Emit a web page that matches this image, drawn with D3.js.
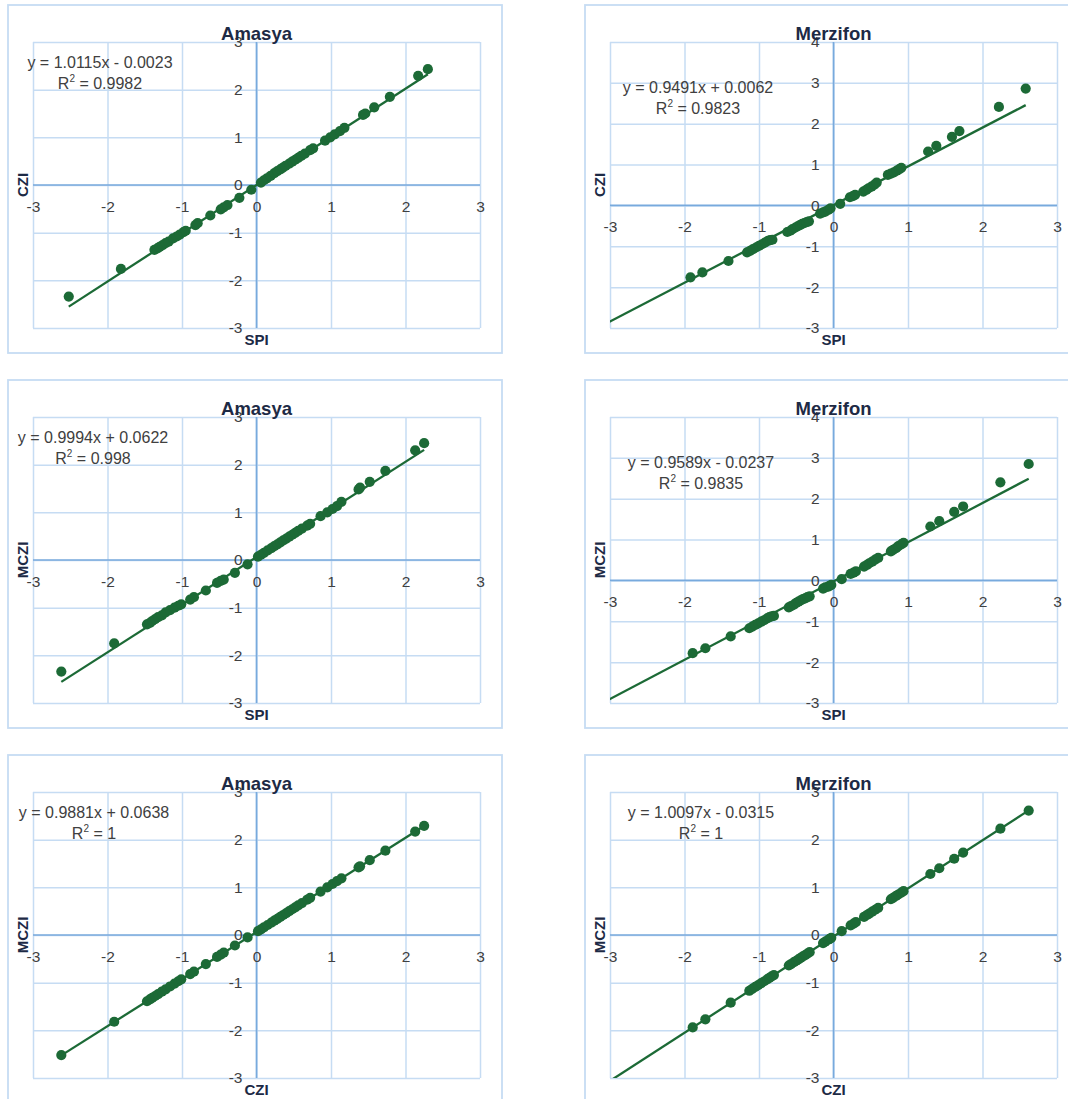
<!DOCTYPE html>
<html>
<head>
<meta charset="utf-8">
<script src="https://cdn.jsdelivr.net/npm/d3@7"></script>
<style>
  body { margin: 0; background: #fff; }
  text { font-family: "Liberation Sans", Arial, sans-serif; }
</style>
</head>
<body>
<svg id="chart" width="1068" height="1099"></svg>
<script>
// ---- data ----
var stations = ["Amasya", "Merzifon"];
var xTitles = ["SPI", "SPI", "CZI"];
var yTitles = ["CZI", "MCZI", "MCZI"];

// Amasya, SPI vs CZI
var amasyaSpiCziX = [-2.52,-1.82,-1.37,-1.33,-1.30,-1.26,-1.22,-1.18,-1.12,-1.07,-1.03,-0.98,-0.95,-0.82,-0.79,-0.62,-0.48,-0.44,-0.39,-0.23,-0.07,0.06,0.10,0.14,0.19,0.24,0.28,0.32,0.35,0.39,0.44,0.48,0.52,0.56,0.60,0.65,0.72,0.76,0.92,0.99,1.05,1.12,1.18,1.43,1.46,1.58,1.79,2.17,2.30];
var amasyaSpiCziY = [-2.34,-1.76,-1.36,-1.33,-1.30,-1.26,-1.22,-1.19,-1.12,-1.08,-1.04,-0.99,-0.96,-0.84,-0.80,-0.64,-0.51,-0.47,-0.42,-0.27,-0.10,0.05,0.10,0.14,0.19,0.25,0.29,0.33,0.36,0.40,0.45,0.49,0.53,0.57,0.61,0.66,0.73,0.77,0.93,1.00,1.06,1.13,1.20,1.47,1.50,1.63,1.85,2.29,2.43];
// Amasya, SPI vs MCZI
var amasyaSpiMcziX = [-2.62,-1.91,-1.47,-1.43,-1.40,-1.36,-1.32,-1.27,-1.22,-1.16,-1.10,-1.05,-1.01,-0.89,-0.84,-0.68,-0.53,-0.48,-0.44,-0.29,-0.12,0.02,0.06,0.10,0.15,0.20,0.24,0.28,0.32,0.36,0.40,0.44,0.48,0.52,0.56,0.61,0.68,0.72,0.86,0.95,1.02,1.08,1.14,1.37,1.39,1.52,1.73,2.13,2.25];
var amasyaSpiMcziY = [-2.34,-1.75,-1.35,-1.32,-1.28,-1.24,-1.20,-1.16,-1.10,-1.05,-1.00,-0.96,-0.93,-0.83,-0.78,-0.64,-0.48,-0.44,-0.41,-0.27,-0.09,0.07,0.11,0.15,0.20,0.25,0.29,0.33,0.37,0.41,0.45,0.49,0.53,0.57,0.61,0.66,0.72,0.76,0.92,1.00,1.07,1.13,1.22,1.48,1.52,1.64,1.87,2.30,2.45];
// Amasya, CZI vs MCZI
var amasyaCziMcziX = [-2.62,-1.91,-1.47,-1.43,-1.40,-1.36,-1.32,-1.27,-1.22,-1.16,-1.10,-1.05,-1.01,-0.89,-0.84,-0.68,-0.53,-0.48,-0.44,-0.29,-0.12,0.02,0.06,0.10,0.15,0.20,0.24,0.28,0.32,0.36,0.40,0.44,0.48,0.52,0.56,0.61,0.68,0.72,0.86,0.95,1.02,1.08,1.14,1.37,1.39,1.52,1.73,2.13,2.25];
var amasyaCziMcziY = [-2.52,-1.82,-1.39,-1.35,-1.32,-1.28,-1.24,-1.19,-1.14,-1.08,-1.02,-0.97,-0.93,-0.82,-0.77,-0.61,-0.46,-0.41,-0.37,-0.22,-0.05,0.08,0.12,0.16,0.21,0.26,0.30,0.34,0.38,0.42,0.46,0.50,0.54,0.58,0.62,0.67,0.74,0.78,0.91,1.00,1.07,1.13,1.19,1.42,1.44,1.57,1.77,2.17,2.29];

// Merzifon, SPI vs CZI
var merzifonSpiCziX = [-1.92,-1.76,-1.41,-1.16,-1.12,-1.08,-1.04,-1.00,-0.96,-0.92,-0.88,-0.85,-0.82,-0.62,-0.58,-0.55,-0.51,-0.48,-0.45,-0.42,-0.39,-0.36,-0.33,-0.18,-0.14,-0.11,-0.07,-0.04,0.09,0.22,0.26,0.29,0.40,0.44,0.47,0.51,0.55,0.58,0.73,0.77,0.81,0.85,0.88,0.91,1.27,1.38,1.59,1.69,2.22,2.58];
var merzifonSpiCziY = [-1.76,-1.64,-1.36,-1.15,-1.11,-1.07,-1.03,-0.99,-0.95,-0.91,-0.87,-0.85,-0.84,-0.65,-0.62,-0.58,-0.54,-0.51,-0.48,-0.45,-0.43,-0.41,-0.39,-0.20,-0.17,-0.15,-0.11,-0.07,0.04,0.20,0.23,0.26,0.34,0.38,0.42,0.46,0.51,0.56,0.75,0.78,0.81,0.85,0.88,0.92,1.32,1.46,1.68,1.82,2.41,2.86];
// Merzifon, SPI vs MCZI
var merzifonSpiMcziX = [-1.89,-1.72,-1.38,-1.13,-1.09,-1.05,-1.01,-0.97,-0.93,-0.89,-0.86,-0.83,-0.80,-0.60,-0.57,-0.53,-0.50,-0.47,-0.44,-0.41,-0.38,-0.35,-0.32,-0.14,-0.11,-0.07,-0.05,-0.03,0.11,0.23,0.27,0.30,0.41,0.45,0.48,0.52,0.56,0.60,0.77,0.80,0.84,0.87,0.91,0.94,1.30,1.42,1.62,1.74,2.24,2.62];
var merzifonSpiMcziY = [-1.78,-1.66,-1.37,-1.17,-1.13,-1.09,-1.05,-1.01,-0.97,-0.93,-0.90,-0.88,-0.87,-0.66,-0.63,-0.59,-0.55,-0.52,-0.49,-0.46,-0.44,-0.41,-0.39,-0.20,-0.17,-0.15,-0.13,-0.11,0.03,0.16,0.19,0.22,0.34,0.38,0.42,0.46,0.51,0.55,0.71,0.75,0.79,0.84,0.88,0.92,1.32,1.45,1.68,1.81,2.40,2.85];
// Merzifon, CZI vs MCZI
var merzifonCziMcziX = [-1.89,-1.72,-1.38,-1.13,-1.09,-1.05,-1.01,-0.97,-0.93,-0.89,-0.86,-0.83,-0.80,-0.60,-0.57,-0.53,-0.50,-0.47,-0.44,-0.41,-0.38,-0.35,-0.32,-0.14,-0.11,-0.07,-0.05,-0.03,0.11,0.23,0.27,0.30,0.41,0.45,0.48,0.52,0.56,0.60,0.77,0.80,0.84,0.87,0.91,0.94,1.30,1.42,1.62,1.74,2.24,2.62];
var merzifonCziMcziY = [-1.94,-1.77,-1.42,-1.17,-1.13,-1.09,-1.05,-1.01,-0.97,-0.93,-0.90,-0.87,-0.84,-0.64,-0.61,-0.57,-0.54,-0.51,-0.48,-0.45,-0.42,-0.39,-0.36,-0.17,-0.14,-0.10,-0.08,-0.06,0.08,0.20,0.24,0.27,0.38,0.42,0.45,0.49,0.53,0.57,0.75,0.78,0.82,0.85,0.89,0.92,1.28,1.40,1.60,1.73,2.23,2.61];

// trendline equations as printed on the chart (row by row: Amasya, Merzifon)
var slopes = [[1.0115, 0.9491], [0.9994, 0.9589], [0.9881, 1.0097]];
var intercepts = [[-0.0023, 0.0062], [0.0622, -0.0237], [0.0638, -0.0315]];
var r2Labels = [["0.9982", "0.9823"], ["0.998", "0.9835"], ["1", "1"]];
// y axis maximum per panel, and backward forecast of the trend line
var yMax = [[3, 4], [3, 4], [3, 3]];
var backward = [[0, 1.5], [0, 1.5], [0, 1.5]];
var tickLabels = ["-3", "-2", "-1", "0", "1", "2", "3", "4"];

var pointsX = [[amasyaSpiCziX, merzifonSpiCziX], [amasyaSpiMcziX, merzifonSpiMcziX], [amasyaCziMcziX, merzifonCziMcziX]];
var pointsY = [[amasyaSpiCziY, merzifonSpiCziY], [amasyaSpiMcziY, merzifonSpiMcziY], [amasyaCziMcziY, merzifonCziMcziY]];

// ---- layout ----
var colX = [8, 585];
var rowY = [5, 380, 755];
var W = 494, H = 348;
var PL = 25, PT = 37, PW = 447, PH = 286;
// where Excel left the equation labels (panel coords, centre of first line)
var eqPos = [[[92, 57], [113, 82]], [[85, 57], [116, 82]], [[86, 57], [116, 57]]];

var green = "#1c6a36";
var gridColor = "#c6dcf3";
var axisColor = "#78aadd";
var labelColor = "#404040";
var titleColor = "#1d2a45";

var svg = d3.select("#chart");
svg.append("rect").attr("width", 1068).attr("height", 1099).attr("fill", "#fff");

var fmt = function(v) { return (v < 0 ? "- " : "+ ") + Math.abs(v).toFixed(4); };

rowY.forEach(function(y0, r) {
  colX.forEach(function(x0, c) {
    var id = "p" + r + c;
    var g = svg.append("g").attr("transform", "translate(" + x0 + "," + y0 + ")");

    g.append("rect")
      .attr("x", 0).attr("y", 0).attr("width", W).attr("height", H)
      .attr("fill", "#fff").attr("stroke", gridColor).attr("stroke-width", 1.8);

    var x = d3.scaleLinear().domain([-3, 3]).range([PL, PL + PW]);
    var y = d3.scaleLinear().domain([-3, yMax[r][c]]).range([PT + PH, PT]);

    // gridlines
    g.append("g").attr("transform", "translate(0," + (PT + PH) + ")")
      .call(d3.axisBottom(x).ticks(6).tickSize(-PH).tickFormat(""))
      .call(function(a) { a.select(".domain").remove(); a.selectAll("line").attr("stroke", gridColor).attr("stroke-width", 1.5); });
    g.append("g").attr("transform", "translate(" + PL + ",0)")
      .call(d3.axisLeft(y).ticks(yMax[r][c] + 3).tickSize(-PW).tickFormat(""))
      .call(function(a) { a.select(".domain").remove(); a.selectAll("line").attr("stroke", gridColor).attr("stroke-width", 1.5); });

    // zero axes
    g.append("line").attr("x1", PL).attr("x2", PL + PW).attr("y1", y(0)).attr("y2", y(0))
      .attr("stroke", axisColor).attr("stroke-width", 1.7);
    g.append("line").attr("x1", x(0)).attr("x2", x(0)).attr("y1", PT).attr("y2", PT + PH)
      .attr("stroke", axisColor).attr("stroke-width", 1.7);

    // tick labels next to the axes
    g.append("g").attr("transform", "translate(0," + y(0) + ")")
      .call(d3.axisBottom(x).ticks(6).tickSize(0).tickPadding(16).tickFormat(function(d) { return tickLabels[d + 3]; }))
      .call(function(a) {
        a.select(".domain").remove();
        a.selectAll("text").attr("fill", labelColor).attr("font-size", 15.5).attr("font-family", "Liberation Sans, Arial, sans-serif");
      });
    g.append("g").attr("transform", "translate(" + x(0) + ",0)")
      .call(d3.axisLeft(y).ticks(yMax[r][c] + 3).tickSize(0).tickPadding(14).tickFormat(function(d) { return tickLabels[d + 3]; }))
      .call(function(a) {
        a.select(".domain").remove();
        a.selectAll("text").attr("fill", labelColor).attr("font-size", 15.5).attr("font-family", "Liberation Sans, Arial, sans-serif");
      });

    // trend line, clipped to the plot area
    g.append("clipPath").attr("id", "clip" + id).append("rect")
      .attr("x", PL).attr("y", PT).attr("width", PW).attr("height", PH);
    var xs = pointsX[r][c], ys = pointsY[r][c];
    var x1 = d3.min(xs) - backward[r][c], x2 = d3.max(xs);
    var m = slopes[r][c], b = intercepts[r][c];
    g.append("line").attr("clip-path", "url(#clip" + id + ")")
      .attr("x1", x(x1)).attr("y1", y(m * x1 + b))
      .attr("x2", x(x2)).attr("y2", y(m * x2 + b))
      .attr("stroke", green).attr("stroke-width", 2.3);

    // points
    g.append("g").selectAll("circle").data(xs).join("circle")
      .attr("cx", function(d) { return x(d); })
      .attr("cy", function(d, i) { return y(ys[i]); })
      .attr("r", 5.1)
      .attr("fill", green);

    // equation label
    var ex = eqPos[r][c][0], ey = eqPos[r][c][1];
    g.append("text").attr("x", ex).attr("y", ey + 6).attr("text-anchor", "middle")
      .attr("font-size", 16).attr("fill", labelColor)
      .text("y = " + m.toFixed(4) + "x " + fmt(b));
    var rt = g.append("text").attr("x", ex).attr("y", ey + 27).attr("text-anchor", "middle")
      .attr("font-size", 16).attr("fill", labelColor);
    rt.append("tspan").text("R");
    rt.append("tspan").attr("dy", -7).attr("font-size", 10).text("2");
    rt.append("tspan").attr("dy", 7).text(" = " + r2Labels[r][c]);

    // titles
    g.append("text").attr("x", PL + PW / 2).attr("y", PT - 2).attr("text-anchor", "middle")
      .attr("font-size", 18.5).attr("font-weight", "bold").attr("fill", titleColor)
      .text(stations[c]);
    g.append("text").attr("x", PL + PW / 2).attr("y", PT + PH + 17).attr("text-anchor", "middle")
      .attr("font-size", 15).attr("font-weight", "bold").attr("fill", titleColor)
      .text(xTitles[r]);
    g.append("text").attr("transform", "translate(20," + (PT + PH / 2) + ") rotate(-90)")
      .attr("text-anchor", "middle")
      .attr("font-size", 15).attr("font-weight", "bold").attr("fill", titleColor)
      .text(yTitles[r]);
  });
});
</script>
</body>
</html>
